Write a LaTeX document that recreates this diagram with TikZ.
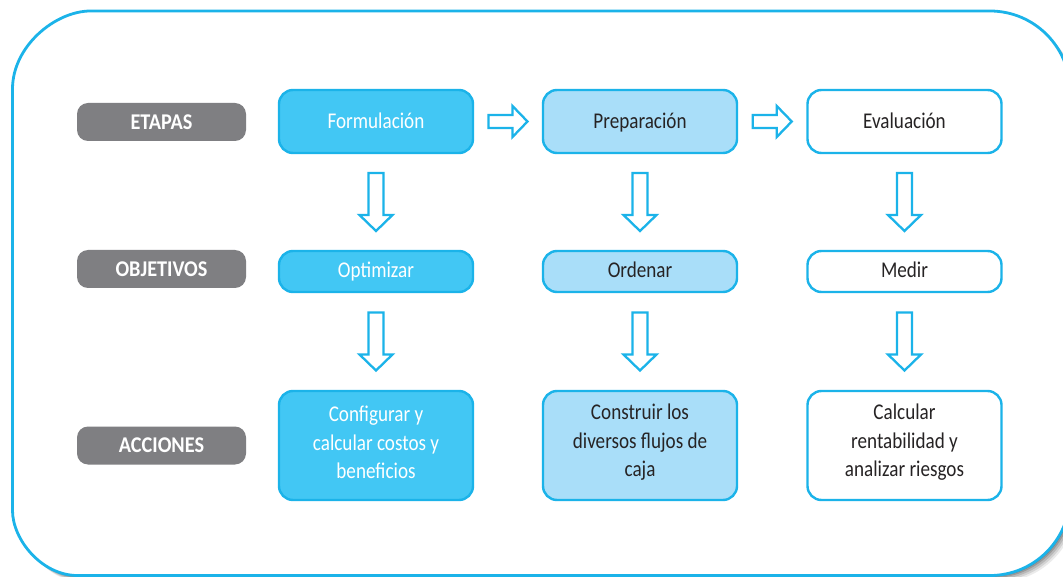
\documentclass[tikz,border=0pt]{standalone}
\usepackage{fontspec}
\setmainfont{Carlito}
\newfontfamily\narrowfont[FakeStretch=0.85]{Carlito}
\newfontfamily\labfont[FakeStretch=0.9]{Carlito Bold}
\usetikzlibrary{calc}
\definecolor{cyanline}{HTML}{1BB3E9}
\definecolor{darkfill}{HTML}{42C7F4}
\definecolor{lightfill}{HTML}{A9DEF9}
\definecolor{labgray}{HTML}{7F7F82}
\definecolor{txtdark}{HTML}{262324}
\tikzset{
  lab/.style={fill=labgray, rounded corners=11pt, minimum width=169pt, minimum height=38pt,
    text=white, font=\labfont\fontsize{22.5}{26}\selectfont, inner sep=0pt},
  stagebox/.style={draw=cyanline, line width=2.4pt, rounded corners=14pt, minimum width=194pt,
    inner sep=0pt, align=center, font=\narrowfont\fontsize{22.5}{28.5}\selectfont, text=txtdark},
  acttext/.style={inner sep=0pt, align=center, font=\narrowfont\fontsize{22.5}{28.5}\selectfont, text=txtdark},
  dk/.style={fill=darkfill, text=white},
  lt/.style={fill=lightfill},
  wt/.style={fill=white},
  r1/.style={minimum height=63pt, text height=15pt, text depth=1pt},
  r2/.style={minimum height=41pt, text height=14pt, text depth=1pt},
  r3/.style={minimum height=109pt},
  blk/.style={draw=cyanline, line width=2.3pt, fill=white, line join=miter},
  darr/.pic={\draw[blk] (-7.5,-29) -- (7.5,-29) -- (7.5,13) -- (16.5,13) -- (0,29) -- (-16.5,13) -- (-7.5,13) -- cycle;},
  rarr/.pic={\draw[blk] (-19.5,-6.5) -- (4.5,-6.5) -- (4.5,-15.5) -- (19.5,0) -- (4.5,15.5) -- (4.5,6.5) -- (-19.5,6.5) -- cycle;}
}
\begin{document}
\begin{tikzpicture}[x=1pt,y=-1pt]
\useasboundingbox (0,0) rectangle (1063,577);
\begin{scope}
\clip (0,0) rectangle (1063,577);
% shadow
\foreach \s/\o in {7/0.08,5.5/0.10,4/0.13,2.5/0.16,1.2/0.2}{
\fill[black, opacity=\o, shift={(\s,\s)}]
  (12.5,89) .. controls (12.5,45.9) and (55.6,11) .. (90.5,11)
  -- (990,11) .. controls (1034.2,11) and (1070,46.8) .. (1070,91)
  -- (1070,495.5) .. controls (1070,539.7) and (1034.2,575.5) .. (990,575.5)
  -- (77.5,575.5) .. controls (41.6,575.5) and (12.5,539.6) .. (12.5,510.5) -- cycle;
}
\draw[cyanline, line width=2.8pt, fill=white]
  (12.5,89) .. controls (12.5,45.9) and (55.6,11) .. (90.5,11)
  -- (990,11) .. controls (1034.2,11) and (1070,46.8) .. (1070,91)
  -- (1070,495.5) .. controls (1070,539.7) and (1034.2,575.5) .. (990,575.5)
  -- (77.5,575.5) .. controls (41.6,575.5) and (12.5,539.6) .. (12.5,510.5) -- cycle;
\end{scope}

\node[lab] (etapas) at (161.5,122) {ETAPAS};
\node[lab] (objetivos) at (161.5,269) {OBJETIVOS};
\node[lab] (acciones) at (161.5,445.5) {ACCIONES};

\node[stagebox, r1, dk] (f) at (376,121.5) {Formulación};
\node[stagebox, r1, lt] (p) at (640,121.5) {Preparación};
\node[stagebox, r1, wt] (e) at (904.5,121.5) {Evaluación};

\node[stagebox, r2, dk] (o1) at (376,271.5) {Optimizar};
\node[stagebox, r2, lt] (o2) at (640,271.5) {Ordenar};
\node[stagebox, r2, wt] (o3) at (904.5,271.5) {Medir};

\node[stagebox, r3, dk] (a1) at (376,445.5) {};
\node[stagebox, r3, lt] (a2) at (640,445.5) {};
\node[stagebox, r3, wt] (a3) at (904.5,445.5) {};
\node[acttext, text=white] (a1t) at ([yshift=3pt]a1.center) {Configurar y\\calcular costos y\\beneficios};
\node[acttext] (a2t) at ([yshift=3pt]a2.center) {Construir los\\diversos flujos de\\caja};
\node[acttext] (a3t) at ([yshift=3pt]a3.center) {Calcular\\rentabilidad y\\analizar riesgos};

\pic at ($(f.east)!0.5!(p.west)$) {rarr};
\pic at ($(p.east)!0.5!(e.west)$) {rarr};
\pic at ($(f.south)!0.5!(o1.north)$) {darr};
\pic at ($(p.south)!0.5!(o2.north)$) {darr};
\pic at ($(e.south)!0.5!(o3.north)$) {darr};
\pic at ($(o1.south)!0.5!(a1.north)$) {darr};
\pic at ($(o2.south)!0.5!(a2.north)$) {darr};
\pic at ($(o3.south)!0.5!(a3.north)$) {darr};
\end{tikzpicture}
\end{document}
